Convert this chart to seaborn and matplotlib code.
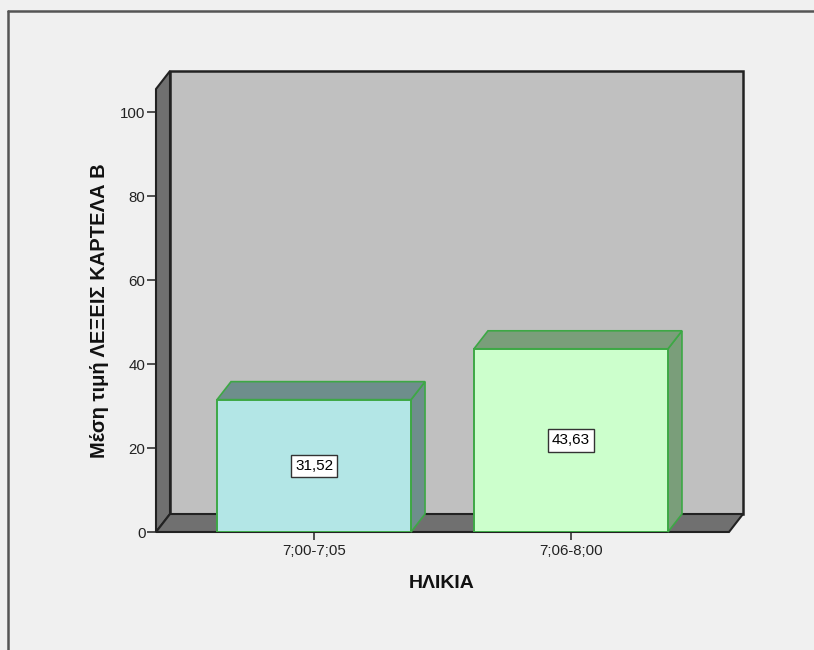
import matplotlib
matplotlib.use("Agg")
import matplotlib.pyplot as plt
import matplotlib.transforms as mtransforms
from matplotlib.patches import Polygon
from matplotlib.lines import Line2D
import seaborn as sns
import pandas as pd

# Data
age_groups = ["7;00-7;05", "7;06-8;00"]
mean_words = [31.52, 43.63]
value_labels = ["31,52", "43,63"]
y_ticks = [0, 20, 40, 60, 80, 100]

front_colors = ["#B3E6E6", "#CCFFCC"]
shade_colors = ["#6E8E8C", "#7A9E7A"]
edge_green = "#3DA845"

sns.set_theme(style="white")
plt.rcParams["font.family"] = ["Liberation Sans", "DejaVu Sans"]

W, H, DPI = 814, 650, 100
fig = plt.figure(figsize=(W / DPI, H / DPI), dpi=DPI)
fig.patch.set_facecolor("#F0F0F0")

# front plane of the 3D box in pixel terms
left_px, right_px, bottom_px, top_px = 156, 729, 532, 89
ax = fig.add_axes([left_px / W, 1 - bottom_px / H,
                   (right_px - left_px) / W, (bottom_px - top_px) / H])
ax.set_facecolor("none")

x0, x1 = -0.615, 1.615
y0, y1 = 0, 105.5
ax.set_xlim(x0, x1)
ax.set_ylim(y0, y1)

# depth offset of the 3D walls and bars (in inches at 100 dpi)
ddx, ddy = 14 / DPI, 18 / DPI
depth = ax.transData + mtransforms.ScaledTranslation(ddx, ddy, fig.dpi_scale_trans)


def box_face(points_front, points_back, **kw):
    """Polygon whose first points are on the front plane and the rest pushed back."""
    disp = [ax.transData.transform(p) for p in points_front] + \
           [depth.transform(p) for p in points_back]
    inv = ax.transData.inverted()
    pts = [inv.transform(d) for d in disp]
    poly = Polygon(pts, closed=True, clip_on=False, **kw)
    ax.add_patch(poly)
    return poly


wall_gray = "#C0C0C0"
dark_gray = "#707070"

# back wall
box_face([], [(x0, 0), (x1, 0), (x1, y1), (x0, y1)],
         facecolor=wall_gray, edgecolor="#222222", linewidth=1.8, zorder=0)
# left side wall
box_face([(x0, 0), (x0, y1)], [(x0, y1), (x0, 0)],
         facecolor=dark_gray, edgecolor="#222222", linewidth=1.5, zorder=1)
# floor
box_face([(x1, 0), (x0, 0)], [(x0, 0), (x1, 0)],
         facecolor=dark_gray, edgecolor="#222222", linewidth=1.5, zorder=1)

df = pd.DataFrame({"age": age_groups, "mean": mean_words})
bar_w = 0.755
sns.barplot(data=df, x="age", y="mean", hue="age", palette=front_colors,
            width=bar_w, edgecolor=edge_green, linewidth=1.4, legend=False,
            saturation=1, ax=ax, zorder=3)
ax.set_xlim(x0, x1)
ax.set_ylim(y0, y1)

# top and right faces of each bar
for i, v in enumerate(mean_words):
    xl, xr = i - bar_w / 2, i + bar_w / 2
    box_face([(xr, 0), (xr, v)], [(xr, v), (xr, 0)],
             facecolor=shade_colors[i], edgecolor=edge_green, linewidth=1.2, zorder=2)
    box_face([(xl, v), (xr, v)], [(xr, v), (xl, v)],
             facecolor=shade_colors[i], edgecolor=edge_green, linewidth=1.2, zorder=2)
    ax.text(i, v / 2, value_labels[i], ha="center", va="center", fontsize=11,
            color="black", zorder=5,
            bbox=dict(boxstyle="square,pad=0.27", facecolor="white",
                      edgecolor="#333333", linewidth=1.0))

for s in ax.spines.values():
    s.set_visible(False)

ax.set_yticks(y_ticks)
ax.set_yticklabels([str(t) for t in y_ticks])
ax.tick_params(axis="y", direction="out", length=6.5, width=1.2, color="#333333",
               labelsize=10.8, labelcolor="#222222", pad=1, left=True)
ax.tick_params(axis="x", direction="out", length=5.5, width=1.2, color="#333333",
               labelsize=10.8, labelcolor="#222222", pad=3, bottom=True)
ax.set_xticks(range(len(age_groups)))
ax.set_xticklabels(age_groups)

ax.set_xlabel("ΗΛΙΚΙΑ", fontsize=14, fontweight="bold", color="#111111")
ax.set_ylabel("Μέση τιμή ΛΕΞΕΙΣ ΚΑΡΤΕΛΑ Β", fontsize=14.5, fontweight="bold",
              color="#111111")
ax.xaxis.set_label_coords((442 - left_px) / (right_px - left_px),
                          -(584 - bottom_px) / (bottom_px - top_px))
ax.xaxis.label.set_verticalalignment("center")
ax.yaxis.set_label_coords(-(left_px - 100) / (right_px - left_px), 0.5)
ax.yaxis.label.set_verticalalignment("center")
ax.yaxis.label.set_horizontalalignment("center")

# outer frame along the top and left edges
fig.add_artist(Line2D([8 / W, 1.0], [1 - 11 / H, 1 - 11 / H],
                      transform=fig.transFigure, color="#555555", linewidth=1.8))
fig.add_artist(Line2D([8 / W, 8 / W], [1 - 11 / H, 0.0],
                      transform=fig.transFigure, color="#555555", linewidth=1.8))

fig.savefig("out.png", dpi=DPI, facecolor=fig.get_facecolor())
